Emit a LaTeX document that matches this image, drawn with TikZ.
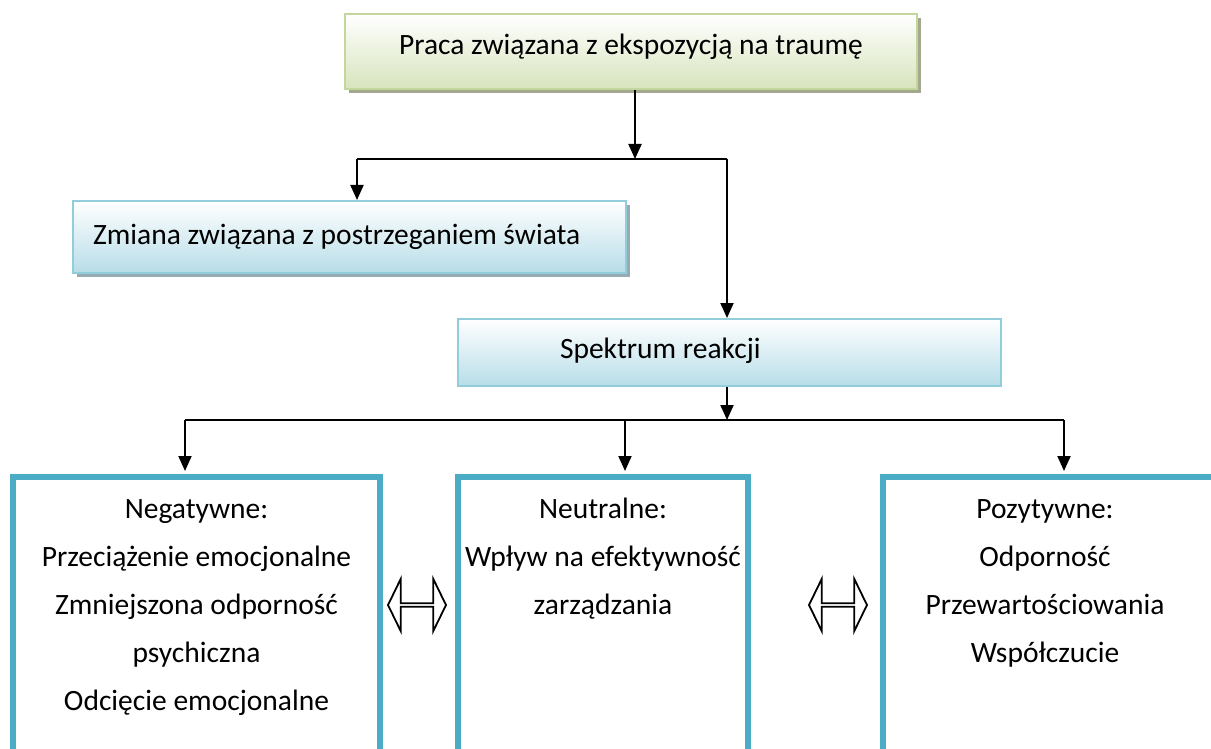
\documentclass[tikz,border=0pt]{standalone}
\usepackage{fontspec}
\setmainfont{Carlito}
\usetikzlibrary{arrows.meta,shapes.arrows,shadows}

\definecolor{greenedge}{HTML}{C3D69B}
\definecolor{greenfill}{HTML}{D7E4BD}
\definecolor{greenshadow}{HTML}{A3A88E}
\definecolor{blueedge}{HTML}{92CDDC}
\definecolor{bluefill}{HTML}{B7DDE8}
\definecolor{blueshadow}{HTML}{98ABB3}
\definecolor{frameblue}{HTML}{4BACC6}

\tikzset{
  txt/.style={font=\fontsize{29.5}{48}\selectfont},
  greenbox/.style={draw=greenedge, line width=2pt, top color=white, bottom color=greenfill,
    rectangle, inner sep=0pt,
    drop shadow={shadow xshift=4pt, shadow yshift=-4pt, fill=greenshadow, opacity=1}},
  bluebox/.style={draw=blueedge, line width=2pt, top color=white, bottom color=bluefill,
    rectangle, inner sep=0pt},
  blueshadowed/.style={bluebox,
    drop shadow={shadow xshift=4pt, shadow yshift=-4pt, fill=blueshadow, opacity=1}},
  framebox/.style={draw=frameblue, line width=6pt, fill=white, rectangle, inner sep=0pt},
  conn/.style={line width=2pt, black},
  arr/.style={conn, -{Triangle[width=13pt,length=15pt]}},
  twoway/.style={double arrow, draw=black, line width=1.8pt, fill=white, inner sep=0pt,
    minimum height=58pt, minimum width=52pt, double arrow head extend=13pt,
    double arrow tip angle=128},
}

\begin{document}
\begin{tikzpicture}[x=1pt,y=-1pt]
\useasboundingbox (0,0) rectangle (1211,749);
\clip (0,0) rectangle (1211,749);

% upper part: source box and the two boxes it feeds
\node[greenbox, txt, minimum width=572pt, minimum height=75pt, text height=20pt, text depth=14pt]
  (top) at (631,51.5) {Praca związana z ekspozycją na traumę};
\node[blueshadowed, txt, minimum width=553pt, minimum height=72pt, text width=513pt,
  align=flush left, inner xsep=20pt, anchor=north west] (zm) at (72,200)
  {Zmiana związana z postrzeganiem świata};
\node[bluebox, txt, minimum width=543pt, minimum height=67pt, text width=339pt,
  align=flush left, inner xsep=102pt, anchor=north west, text depth=9pt] (sp) at (457,318)
  {Spektrum reakcji};

% branching from the source box
\coordinate (split) at (635,159);
\coordinate (cL) at (357,159);
\coordinate (cR) at (727,159);
\draw[arr] (top.south -| split) -- (split);
\draw[conn] (cL) -- (cR);
\draw[arr] (cL) -- (cL |- zm.north);
\draw[arr] (cR) -- (cR |- sp.north);

% three reaction frames
\node[framebox, minimum width=367pt, minimum height=360pt, anchor=north] (neg) at (196.5,474) {};
\node[framebox, minimum width=290pt, minimum height=360pt, anchor=north] (neu) at (603,474) {};
\node[framebox, minimum width=340pt, minimum height=360pt, anchor=north west] (poz) at (880,474) {};

\node[txt, align=center, inner sep=0pt, anchor=north] (negtxt) at (196.5,499)
  {Negatywne:\\Przeciążenie emocjonalne\\Zmniejszona odporność\\psychiczna\\Odcięcie emocjonalne};
\node[txt, align=center, inner sep=0pt, anchor=north] (neutxt) at (603,498)
  {Neutralne:\\Wpływ na efektywność\\zarządzania};
\node[txt, align=center, inner sep=0pt, anchor=north] (poztxt) at (1045,499)
  {Pozytywne:\\Odporność\\Przewartościowania\\Współczucie};

% branching from the spectrum box
\coordinate (c2) at (727,420);
\coordinate (dL) at (185,420);
\coordinate (dM) at (625,420);
\coordinate (dR) at (1064,420);
\draw[arr] (sp.south -| c2) -- (c2);
\draw[conn] (dL) -- (dR);
\draw[arr, shorten >=3pt] (dL) -- (dL |- neg.north);
\draw[arr, shorten >=3pt] (dM) -- (dM |- neu.north);
\draw[arr, shorten >=3pt] (dR) -- (dR |- poz.north);

% two-way arrows between the frames
\node[twoway] (a1) at (417,605) {};
\node[twoway] (a2) at (838,605) {};
\end{tikzpicture}
\end{document}
